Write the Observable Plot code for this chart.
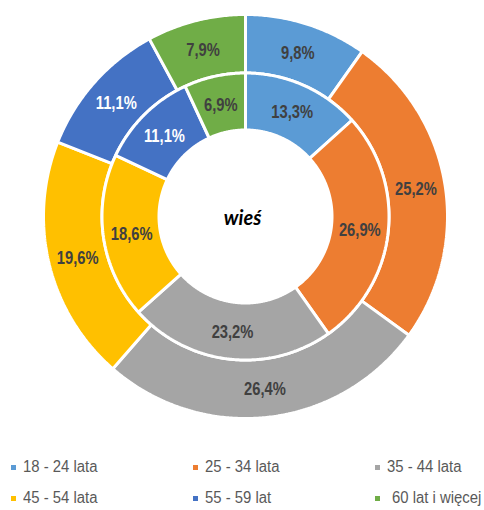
<!DOCTYPE html>
<html><head><meta charset="utf-8">
<script src="https://cdn.jsdelivr.net/npm/d3@7"></script>
<script src="https://cdn.jsdelivr.net/npm/@observablehq/plot@0.6"></script>
<style>
html,body{margin:0;padding:0;background:#fff;}
#wrap{position:relative;width:484px;height:510px;overflow:hidden;}
#legend{position:absolute;left:0;top:0;width:484px;height:510px;pointer-events:none;}
.li{position:absolute;font-family:"Liberation Sans",Arial,sans-serif;font-size:16px;color:#595959;white-space:nowrap;line-height:16px;transform:scaleX(0.93);transform-origin:0 0;}
.sw{position:absolute;width:5px;height:5px;}
</style></head>
<body><div id="wrap"><div id="chart"></div><div id="legend"></div></div>
<script>
const categories = ["18 - 24 lata","25 - 34 lata","35 - 44 lata","45 - 54 lata","55 - 59 lat","60 lat i więcej"];
const outerValues = [9.8, 25.2, 26.4, 19.6, 11.1, 7.9];
const innerValues = [13.3, 26.9, 23.2, 18.6, 11.1, 6.9];
const colors = ["#5B9BD5","#ED7D31","#A5A5A5","#FFC000","#4472C4","#70AD47"];
const labelColors = ["#404040","#404040","#404040","#404040","#ffffff","#404040"];
const centerLabel = "wieś";

const rings = [
  {name:"outer", values: outerValues, r0: 143.5, r1: 202},
  {name:"inner", values: innerValues, r0: 86.5, r1: 143.5}
];

const polys = [];
const labels = [];
for (const ring of rings) {
  const total = d3.sum(ring.values);
  let acc = 0;
  ring.values.forEach((v, i) => {
    const a0 = acc / total * 2 * Math.PI;
    acc += v;
    const a1 = acc / total * 2 * Math.PI;
    const n = Math.max(2, Math.ceil((a1 - a0) / (Math.PI / 360)));
    const key = ring.name + i;
    for (let k = 0; k <= n; k++) {
      const a = a0 + (a1 - a0) * k / n;
      polys.push({key, cat: categories[i], x: ring.r1 * Math.sin(a), y: ring.r1 * Math.cos(a)});
    }
    for (let k = n; k >= 0; k--) {
      const a = a0 + (a1 - a0) * k / n;
      polys.push({key, cat: categories[i], x: ring.r0 * Math.sin(a), y: ring.r0 * Math.cos(a)});
    }
    polys.push({key, cat: categories[i], x: ring.r1 * Math.sin(a0), y: ring.r1 * Math.cos(a0)});
    const am = (a0 + a1) / 2, rm = (ring.r0 + ring.r1) / 2;
    labels.push({x: rm * Math.sin(am), y: rm * Math.cos(am), text: v.toFixed(1).replace(".", ",") + "%", color: labelColors[i]});
  });
}

const chart = Plot.plot({
  width: 484, height: 440,
  margin: 0,
  x: {domain: [-245, 239], axis: null},
  y: {domain: [-224, 216], axis: null},
  color: {domain: categories, range: colors},
  marks: [
    Plot.line(polys, {x: "x", y: "y", z: "key", fill: "cat", stroke: "white", strokeWidth: 3, strokeLinejoin: "miter", curve: "linear"}),
    Plot.text(labels, {x: "x", y: "y", text: "text", fill: d => d.color, fontSize: 18, fontWeight: "bold", fontFamily: "'Liberation Sans',Arial,sans-serif", textAnchor: "middle", dy: 1, className: "lbl"}),
    Plot.text([centerLabel], {x: () => -3, y: () => -2, text: d => d, fontSize: 20, fontWeight: "bold", fontStyle: "italic", fontFamily: "Lato, 'Open Sans', sans-serif", fill: "#000", textAnchor: "middle"})
  ]
});
// condense the percentage labels horizontally (Arial Narrow look)
chart.querySelectorAll("g.lbl text").forEach(t => {
  const tr = t.getAttribute("transform") || "";
  t.setAttribute("transform", tr + " scale(0.82,1)");
});
document.getElementById("chart").appendChild(chart);

const legendPos = [[11,467],[193,467],[375,467],[11,498],[193,498],[375,498]];
const leg = document.getElementById("legend");
categories.forEach((c, i) => {
  const [x, y] = legendPos[i];
  const sw = document.createElement("div");
  sw.className = "sw"; sw.style.left = x + "px"; sw.style.top = (y - 2.5) + "px"; sw.style.background = colors[i];
  leg.appendChild(sw);
  const t = document.createElement("div");
  t.className = "li"; t.textContent = c;
  t.style.left = (x + (i === 5 ? 17 : 12)) + "px"; t.style.top = (y - 8) + "px";
  leg.appendChild(t);
});
</script></body></html>
